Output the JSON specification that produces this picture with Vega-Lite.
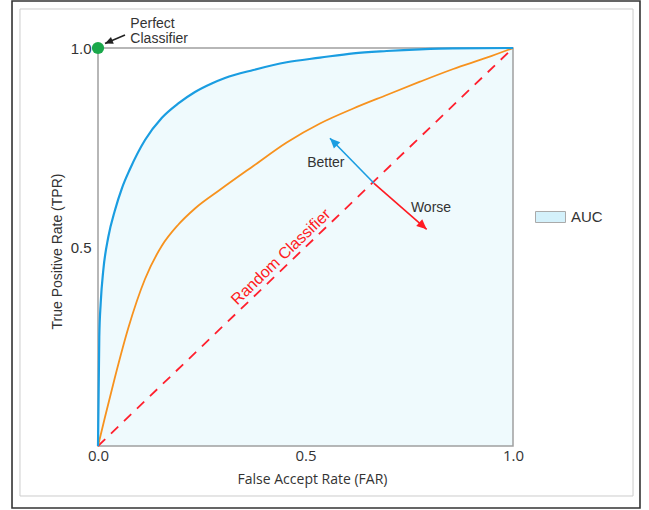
{
  "$schema": "https://vega.github.io/schema/vega-lite/v6.json",
  "width": 415,
  "height": 398,
  "autosize": {"type": "none"},
  "padding": {"left": 98, "top": 48, "right": 136, "bottom": 64},
  "background": "white",
  "config": {"view": {"stroke": null}, "axis": {"grid": false}},
  "datasets": {
    "blue": [
      {"far": 0, "tpr": 0},
      {"far": 0.0031, "tpr": 0.2746},
      {"far": 0.0065, "tpr": 0.3593},
      {"far": 0.0128, "tpr": 0.4422},
      {"far": 0.0248, "tpr": 0.5251},
      {"far": 0.041, "tpr": 0.593},
      {"far": 0.0578, "tpr": 0.6482},
      {"far": 0.0771, "tpr": 0.696},
      {"far": 0.1133, "tpr": 0.7688},
      {"far": 0.1535, "tpr": 0.8241},
      {"far": 0.1935, "tpr": 0.8606},
      {"far": 0.2337, "tpr": 0.8894},
      {"far": 0.274, "tpr": 0.9108},
      {"far": 0.306, "tpr": 0.9246},
      {"far": 0.3742, "tpr": 0.9447},
      {"far": 0.4547, "tpr": 0.9641},
      {"far": 0.5349, "tpr": 0.9756},
      {"far": 0.6152, "tpr": 0.9867},
      {"far": 0.6957, "tpr": 0.9925},
      {"far": 0.7759, "tpr": 0.9967},
      {"far": 0.8554, "tpr": 0.9992},
      {"far": 1, "tpr": 1}
    ],
    "orange": [
      {"far": 0, "tpr": 0},
      {"far": 0.0169, "tpr": 0.0729},
      {"far": 0.041, "tpr": 0.1734},
      {"far": 0.073, "tpr": 0.2965},
      {"far": 0.1133, "tpr": 0.4196},
      {"far": 0.1535, "tpr": 0.5025},
      {"far": 0.1928, "tpr": 0.5553},
      {"far": 0.2337, "tpr": 0.5967},
      {"far": 0.294, "tpr": 0.6437},
      {"far": 0.3742, "tpr": 0.7035},
      {"far": 0.4547, "tpr": 0.7626},
      {"far": 0.5349, "tpr": 0.8103},
      {"far": 0.6152, "tpr": 0.848},
      {"far": 0.6957, "tpr": 0.8819},
      {"far": 0.7759, "tpr": 0.9153},
      {"far": 0.8561, "tpr": 0.9472},
      {"far": 0.9366, "tpr": 0.9756},
      {"far": 1, "tpr": 1}
    ],
    "diagonal": [
      {"far": 0, "tpr": 0},
      {"far": 1, "tpr": 1}
    ],
    "arrows": [
      {"name": "perfect", "far": 0.0651, "tpr": 1.0327, "far2": 0.0169, "tpr2": 1.0113},
      {"name": "better", "far": 0.6651, "tpr": 0.6601, "far2": 0.559, "tpr2": 0.7731},
      {"name": "worse", "far": 0.6651, "tpr": 0.6601, "far2": 0.792, "tpr2": 0.5445}
    ],
    "notes": [
      {"label": "Perfect", "far": 0.078, "tpr": 1.0503},
      {"label": "Classifier", "far": 0.078, "tpr": 1.0126},
      {"label": "Better", "far": 0.549, "tpr": 0.701},
      {"label": "Worse", "far": 0.8024, "tpr": 0.5887}
    ],
    "random": [
      {"label": "Random Classifier", "far": 0.441, "tpr": 0.475}
    ],
    "perfect": [
      {"far": 0, "tpr": 1}
    ]
  },
  "layer": [
    {
      "data": {"values": [{}]},
      "mark": {"type": "rect", "fill": "white", "fillOpacity": 0, "stroke": "#333333", "strokeWidth": 1.6},
      "encoding": {
        "x": {"datum": -0.2072, "type": "quantitative", "scale": {"domain": [0, 1], "nice": false, "zero": false}},
        "x2": {"datum": 1.306},
        "y": {"datum": 1.1181, "type": "quantitative", "scale": {"domain": [0, 1], "nice": false, "zero": false}},
        "y2": {"datum": -0.1558}
      }
    },
    {
      "data": {"values": [{}]},
      "mark": {"type": "rect", "fill": "white", "fillOpacity": 0, "stroke": "#cccccc", "strokeWidth": 1},
      "encoding": {
        "x": {"datum": -0.188, "type": "quantitative", "scale": {"domain": [0, 1], "nice": false, "zero": false}},
        "x2": {"datum": 1.2892},
        "y": {"datum": 1.098, "type": "quantitative", "scale": {"domain": [0, 1], "nice": false, "zero": false}},
        "y2": {"datum": -0.1256}
      }
    },
    {
      "data": {"name": "blue"},
      "mark": {"type": "area", "interpolate": "monotone", "opacity": 1, "fillOpacity": 0.38},
      "encoding": {
        "x": {
          "field": "far", "type": "quantitative",
          "scale": {"domain": [0, 1], "nice": false, "zero": false},
          "axis": {
            "values": [0, 0.5, 1], "format": ".1f", "ticks": false, "domain": false, "grid": false,
            "labelFont": "Open Sans", "labelFontSize": 15, "labelColor": "#333333", "labelPadding": 2,
            "labelFlush": false, "labelOverlap": false,
            "title": "False Accept Rate (FAR)", "titleFont": "Open Sans", "titleFontSize": 14,
            "titleFontWeight": "normal", "titleColor": "#333333", "titlePadding": 9, "titleX": 214
          }
        },
        "y": {
          "field": "tpr", "type": "quantitative",
          "scale": {"domain": [0, 1], "nice": false, "zero": false},
          "axis": {
            "values": [0.5, 1], "format": ".1f", "ticks": false, "domain": false, "grid": false,
            "labelFont": "Liberation Sans", "labelFontSize": 15, "labelColor": "#333333", "labelPadding": 7,
            "title": "True Positive Rate (TPR)", "titleFont": "Liberation Sans", "titleFontSize": 14,
            "titleFontWeight": "normal", "titleColor": "#333333", "titlePadding": 6, "titleY": 203
          }
        },
        "fill": {
          "datum": "AUC", "type": "nominal",
          "scale": {"range": ["#d4f1fb"]},
          "legend": {
            "title": null, "orient": "none", "legendX": 437, "legendY": 153.5, "padding": 0,
            "symbolType": "M-1,-0.367H1V0.367H-1Z", "symbolSize": 900,
            "symbolOpacity": 1, "symbolFillColor": "#d4f1fb", "symbolStrokeColor": "#aaaaaa", "symbolStrokeWidth": 1,
            "labelFont": "Liberation Sans", "labelFontSize": 15, "labelColor": "#333333", "labelOffset": 5
          }
        }
      }
    },
    {
      "data": {"values": [{}]},
      "mark": {"type": "rect", "fill": "white", "fillOpacity": 0, "stroke": "#a0a0a0", "strokeWidth": 1.5},
      "encoding": {
        "x": {"datum": 0, "type": "quantitative", "scale": {"domain": [0, 1], "nice": false, "zero": false}},
        "x2": {"datum": 1},
        "y": {"datum": 1, "type": "quantitative", "scale": {"domain": [0, 1], "nice": false, "zero": false}},
        "y2": {"datum": 0}
      }
    },
    {
      "data": {"name": "diagonal"},
      "mark": {"type": "line", "stroke": "#ff1f2d", "strokeWidth": 1.8, "strokeDash": [10, 8]},
      "encoding": {
        "x": {"field": "far", "type": "quantitative", "scale": {"domain": [0, 1], "nice": false, "zero": false}},
        "y": {"field": "tpr", "type": "quantitative", "scale": {"domain": [0, 1], "nice": false, "zero": false}}
      }
    },
    {
      "data": {"name": "orange"},
      "mark": {"type": "line", "stroke": "#f7921e", "strokeWidth": 1.8, "interpolate": "monotone"},
      "encoding": {
        "x": {"field": "far", "type": "quantitative", "scale": {"domain": [0, 1], "nice": false, "zero": false}},
        "y": {"field": "tpr", "type": "quantitative", "scale": {"domain": [0, 1], "nice": false, "zero": false}}
      }
    },
    {
      "data": {"name": "blue"},
      "mark": {"type": "line", "stroke": "#1a9de1", "strokeWidth": 2.2, "interpolate": "monotone"},
      "encoding": {
        "x": {"field": "far", "type": "quantitative", "scale": {"domain": [0, 1], "nice": false, "zero": false}},
        "y": {"field": "tpr", "type": "quantitative", "scale": {"domain": [0, 1], "nice": false, "zero": false}}
      }
    },
    {
      "data": {"name": "arrows"},
      "mark": {"type": "rule", "strokeWidth": 1.6},
      "encoding": {
        "x": {"field": "far", "type": "quantitative", "scale": {"domain": [0, 1], "nice": false, "zero": false}},
        "y": {"field": "tpr", "type": "quantitative", "scale": {"domain": [0, 1], "nice": false, "zero": false}},
        "x2": {"field": "far2"},
        "y2": {"field": "tpr2"},
        "stroke": {
          "field": "name", "type": "nominal",
          "scale": {"domain": ["perfect", "better", "worse"], "range": ["#222222", "#1a9de1", "#ff1a22"]},
          "legend": null
        }
      }
    },
    {
      "data": {"name": "arrows"},
      "transform": [{"filter": "datum.name === 'perfect'"}],
      "mark": {"type": "point", "shape": "M0,0L0.45,1L-0.45,1Z", "filled": true, "size": 256, "angle": 247, "color": "#222222", "opacity": 1},
      "encoding": {
        "x": {"field": "far2", "type": "quantitative", "scale": {"domain": [0, 1], "nice": false, "zero": false}},
        "y": {"field": "tpr2", "type": "quantitative", "scale": {"domain": [0, 1], "nice": false, "zero": false}}
      }
    },
    {
      "data": {"name": "arrows"},
      "transform": [{"filter": "datum.name === 'better'"}],
      "mark": {"type": "point", "shape": "M0,0L0.45,1L-0.45,1Z", "filled": true, "size": 400, "angle": 315, "color": "#1a9de1", "opacity": 1},
      "encoding": {
        "x": {"field": "far2", "type": "quantitative", "scale": {"domain": [0, 1], "nice": false, "zero": false}},
        "y": {"field": "tpr2", "type": "quantitative", "scale": {"domain": [0, 1], "nice": false, "zero": false}}
      }
    },
    {
      "data": {"name": "arrows"},
      "transform": [{"filter": "datum.name === 'worse'"}],
      "mark": {"type": "point", "shape": "M0,0L0.45,1L-0.45,1Z", "filled": true, "size": 400, "angle": 131.7, "color": "#ff1a22", "opacity": 1},
      "encoding": {
        "x": {"field": "far2", "type": "quantitative", "scale": {"domain": [0, 1], "nice": false, "zero": false}},
        "y": {"field": "tpr2", "type": "quantitative", "scale": {"domain": [0, 1], "nice": false, "zero": false}}
      }
    },
    {
      "data": {"name": "notes"},
      "transform": [{"filter": "datum.label === 'Perfect' || datum.label === 'Classifier'"}],
      "mark": {"type": "text", "align": "left", "baseline": "alphabetic", "font": "Liberation Sans", "fontSize": 14, "color": "#333333"},
      "encoding": {
        "x": {"field": "far", "type": "quantitative", "scale": {"domain": [0, 1], "nice": false, "zero": false}},
        "y": {"field": "tpr", "type": "quantitative", "scale": {"domain": [0, 1], "nice": false, "zero": false}},
        "text": {"field": "label"}
      }
    },
    {
      "data": {"name": "notes"},
      "transform": [{"filter": "datum.label === 'Better' || datum.label === 'Worse'"}],
      "mark": {"type": "text", "align": "center", "baseline": "alphabetic", "font": "Liberation Sans", "fontSize": 14, "color": "#333333"},
      "encoding": {
        "x": {"field": "far", "type": "quantitative", "scale": {"domain": [0, 1], "nice": false, "zero": false}},
        "y": {"field": "tpr", "type": "quantitative", "scale": {"domain": [0, 1], "nice": false, "zero": false}},
        "text": {"field": "label"}
      }
    },
    {
      "data": {"name": "random"},
      "mark": {"type": "text", "align": "center", "baseline": "middle", "font": "Liberation Sans", "fontSize": 16, "color": "#ff1a22", "angle": 316.2},
      "encoding": {
        "x": {"field": "far", "type": "quantitative", "scale": {"domain": [0, 1], "nice": false, "zero": false}},
        "y": {"field": "tpr", "type": "quantitative", "scale": {"domain": [0, 1], "nice": false, "zero": false}},
        "text": {"field": "label"}
      }
    },
    {
      "data": {"name": "perfect"},
      "mark": {"type": "point", "shape": "circle", "filled": true, "size": 150, "color": "#1aa84b", "opacity": 1},
      "encoding": {
        "x": {"field": "far", "type": "quantitative", "scale": {"domain": [0, 1], "nice": false, "zero": false}},
        "y": {"field": "tpr", "type": "quantitative", "scale": {"domain": [0, 1], "nice": false, "zero": false}}
      }
    }
  ]
}
